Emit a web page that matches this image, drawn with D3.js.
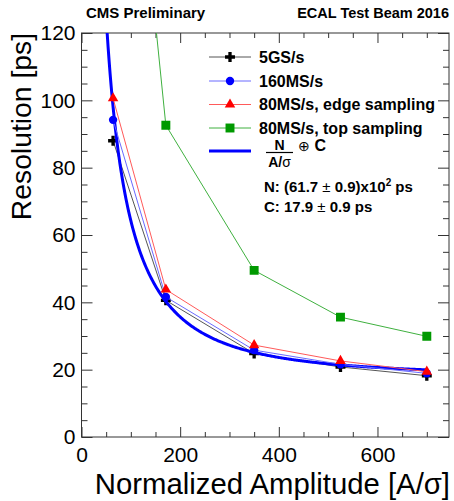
<!DOCTYPE html>
<html>
<head>
<meta charset="utf-8">
<script src="https://cdn.jsdelivr.net/npm/d3@7"></script>
<style>
  body { margin: 0; background: #fff; }
  svg { display: block; font-family: "Liberation Sans", Arial, sans-serif; }
</style>
</head>
<body>
<svg id="chart" width="454" height="501"></svg>
<script>
// data
const amplitudes = [64, 171, 350, 525, 700];
const res5GS = [88.0, 40.6, 24.8, 20.8, 18.2];
const res160MS = [94.2, 41.6, 25.8, 21.6, 18.9];
const res80Edge = [100.6, 43.8, 27.3, 22.6, 19.4];
const res80Top = [247, 92.6, 49.5, 35.6, 29.9];
const seriesNames = ["5GS/s", "160MS/s", "80MS/s, edge sampling", "80MS/s, top sampling"];
const xTicks = [0, 200, 400, 600];
const yTicks = [0, 20, 40, 60, 80, 100, 120];
// fit parameters (from the label on the chart)
const fitN = 6170;
const fitC = 17.9;

const plotLeft = 81.5, plotRight = 449, plotTop = 33, plotBottom = 437;

const svg = d3.select("#chart");

const x = d3.scaleLinear().domain([0, 745]).range([plotLeft, plotRight]);
const y = d3.scaleLinear().domain([0, 120]).range([plotBottom, plotTop]);

// minor ticks
const xMinor = d3.range(0, 746, 50).filter(d => d % 200 !== 0);
const yMinor = d3.range(0, 121, 5).filter(d => d % 20 !== 0);

function tickAxis(axis, tr) {
    const g = svg.append("g").attr("transform", tr).call(axis);
    g.select(".domain").remove();
    g.selectAll(".tick line").attr("stroke", "#333");
    return g;
}

tickAxis(d3.axisBottom(x).tickValues(xMinor).tickSize(-5).tickFormat(""), `translate(0,${plotBottom})`);
tickAxis(d3.axisTop(x).tickValues(xMinor).tickSize(-5).tickFormat(""), `translate(0,${plotTop})`);
tickAxis(d3.axisLeft(y).tickValues(yMinor).tickSize(-6).tickFormat(""), `translate(${plotLeft},0)`);
tickAxis(d3.axisRight(y).tickValues(yMinor).tickSize(-6).tickFormat(""), `translate(${plotRight},0)`);
tickAxis(d3.axisTop(x).tickValues(xTicks).tickSize(-10).tickFormat(""), `translate(0,${plotTop})`);
tickAxis(d3.axisRight(y).tickValues(yTicks).tickSize(-11).tickFormat(""), `translate(${plotRight},0)`);

const xAxis = tickAxis(d3.axisBottom(x).tickValues(xTicks).tickSize(-10).tickPadding(10), `translate(0,${plotBottom})`);
const yAxis = tickAxis(d3.axisLeft(y).tickValues(yTicks).tickSize(-11).tickPadding(6), `translate(${plotLeft},0)`);
[xAxis, yAxis].forEach(g => g.selectAll("text")
    .attr("font-size", 21).attr("fill", "#000").attr("font-family", "Liberation Sans, Arial, sans-serif"));

// frame
svg.append("rect")
    .attr("x", plotLeft).attr("y", plotTop)
    .attr("width", plotRight - plotLeft).attr("height", plotBottom - plotTop)
    .attr("fill", "none").attr("stroke", "#333").attr("stroke-width", 1);

// titles
svg.append("text")
    .attr("x", plotRight + 1).attr("y", 494)
    .attr("text-anchor", "end").attr("font-size", 29.3)
    .text("Normalized Amplitude [A/σ]");
svg.append("text")
    .attr("transform", `translate(31,${plotTop}) rotate(-90)`)
    .attr("text-anchor", "end").attr("font-size", 28.3)
    .text("Resolution [ps]");
svg.append("text")
    .attr("x", 86).attr("y", 18)
    .attr("font-size", 15).attr("font-weight", "bold")
    .text("CMS Preliminary");
svg.append("text")
    .attr("x", plotRight).attr("y", 18)
    .attr("text-anchor", "end").attr("font-size", 14.5).attr("font-weight", "bold")
    .text("ECAL Test Beam 2016");

// plot area
svg.append("clipPath").attr("id", "clip")
    .append("rect").attr("x", plotLeft).attr("y", plotTop)
    .attr("width", plotRight - plotLeft).attr("height", plotBottom - plotTop);
const plot = svg.append("g").attr("clip-path", "url(#clip)");

const series = [
    {name: seriesNames[0], values: res5GS, line: "#555", fill: "#000", symbol: d3.symbolCross, size: 55},
    {name: seriesNames[1], values: res160MS, line: "#6a6aff", fill: "#0000ff", symbol: d3.symbolCircle, size: 55},
    {name: seriesNames[2], values: res80Edge, line: "#ff5a5a", fill: "#ff0000", symbol: d3.symbolTriangle, size: 48},
    {name: seriesNames[3], values: res80Top, line: "#3fb03f", fill: "#009900", symbol: d3.symbolSquare, size: 80}
];

const line = d3.line().x(d => x(d[0])).y(d => y(d[1]));

function drawSeries(s) {
    const pts = amplitudes.map((a, i) => [a, s.values[i]]);
    plot.append("path")
        .datum(pts)
        .attr("d", line)
        .attr("fill", "none")
        .attr("stroke", s.line)
        .attr("stroke-width", 1);
    plot.selectAll(null)
        .data(pts)
        .join("path")
        .attr("transform", d => `translate(${x(d[0])},${y(d[1])})`)
        .attr("d", d3.symbol(s.symbol, s.size))
        .attr("fill", s.fill);
}

function drawFit() {
    const pts = d3.range(30, 701, 2).map(a => [a, Math.hypot(fitN / a, fitC)]);
    plot.append("path")
        .datum(pts)
        .attr("d", line)
        .attr("fill", "none")
        .attr("stroke", "#0000ff")
        .attr("stroke-width", 3);
}

drawSeries(series[0]);
drawFit();
drawSeries(series[1]);
drawSeries(series[2]);
drawSeries(series[3]);

// legend
const legendRows = [57, 81, 104.5, 128];
const legend = svg.append("g");
series.forEach((s, i) => {
    const ly = legendRows[i];
    legend.append("line")
        .attr("x1", 209).attr("x2", 251).attr("y1", ly).attr("y2", ly)
        .attr("stroke", s.line).attr("stroke-width", 1);
    legend.append("path")
        .attr("transform", `translate(230,${ly})`)
        .attr("d", d3.symbol(s.symbol, s.size))
        .attr("fill", s.fill);
    legend.append("text")
        .attr("x", 259).attr("y", ly).attr("dy", "0.36em")
        .attr("font-size", 16).attr("font-weight", "bold")
        .text(s.name);
});

// fit legend entry
legend.append("line")
    .attr("x1", 209).attr("x2", 251).attr("y1", 151).attr("y2", 151)
    .attr("stroke", "#0000ff").attr("stroke-width", 3);
legend.append("text")
    .attr("x", 279.5).attr("y", 150).attr("text-anchor", "middle")
    .attr("font-size", 14).attr("font-weight", "bold").text("N");
legend.append("line")
    .attr("x1", 266).attr("x2", 293).attr("y1", 152.5).attr("y2", 152.5)
    .attr("stroke", "#000").attr("stroke-width", 1.2);
const den = legend.append("text")
    .attr("x", 279.5).attr("y", 166.5).attr("text-anchor", "middle")
    .attr("font-size", 14).attr("font-weight", "bold");
den.append("tspan").text("A/");
den.append("tspan").attr("font-weight", "normal").text("σ");
legend.append("text")
    .attr("x", 298).attr("y", 151)
    .attr("font-size", 14).text("⊕");
legend.append("text")
    .attr("x", 314.5).attr("y", 151)
    .attr("font-size", 16).attr("font-weight", "bold").text("C");

// fit results
const tN = legend.append("text")
    .attr("x", 264).attr("y", 192)
    .attr("font-size", 15).attr("font-weight", "bold");
tN.append("tspan").text("N: (61.7 ");
tN.append("tspan").attr("font-weight", "normal").text("±");
tN.append("tspan").text(" 0.9)x10");
tN.append("tspan").attr("font-size", 10).attr("dy", -6).text("2");
tN.append("tspan").attr("dy", 6).text(" ps");

const tC = legend.append("text")
    .attr("x", 264).attr("y", 212)
    .attr("font-size", 15).attr("font-weight", "bold");
tC.append("tspan").text("C: 17.9 ");
tC.append("tspan").attr("font-weight", "normal").text("±");
tC.append("tspan").text(" 0.9 ps");
</script>
</body>
</html>
